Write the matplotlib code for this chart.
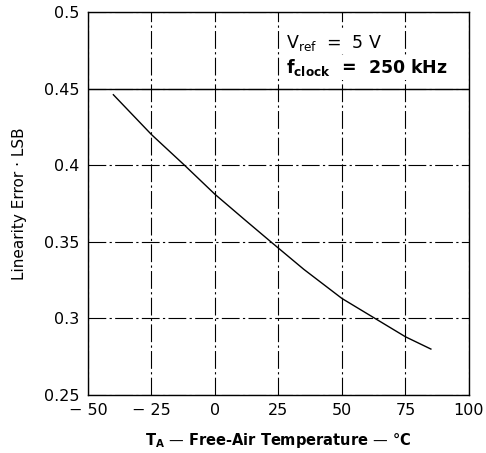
import matplotlib
matplotlib.use("Agg")
import matplotlib.pyplot as plt

# data
temp_c = [-40, -25, -12, 0, 12, 22, 35, 50, 63, 75, 85]
lin_err = [0.446, 0.420, 0.400, 0.381, 0.364, 0.350, 0.332, 0.313, 0.300, 0.288, 0.280]

x_ticks = [-50, -25, 0, 25, 50, 75, 100]
x_labels = ["\u2212 50", "\u2212 25", "0", "25", "50", "75", "100"]
y_ticks = [0.25, 0.3, 0.35, 0.4, 0.45, 0.5]
y_labels = ["0.25", "0.3", "0.35", "0.4", "0.45", "0.5"]

plt.rcParams["font.family"] = ["DejaVu Sans"]
plt.rcParams["mathtext.fontset"] = "dejavusans"

fig = plt.figure(figsize=(4.86, 4.53), dpi=100)
ax = fig.add_axes([0.181, 0.128, 0.784, 0.8455])

ax.plot(temp_c, lin_err, color="black", linewidth=1.0)

ax.set_xlim(-50, 100)
ax.set_ylim(0.25, 0.5)
ax.set_xticks(x_ticks, x_labels)
ax.set_yticks(y_ticks, y_labels)
ax.tick_params(length=0, labelsize=11.5, pad=6)

# broken dash-dot grid, as in the scanned datasheet
ax.grid(True, color="black", linewidth=0.8, linestyle=(0, (16, 3, 2, 3)))
ax.axhline(0.45, color="black", linewidth=1.0)

for s in ax.spines.values():
  s.set_linewidth(1.0)

box = dict(facecolor="white", edgecolor="none", pad=1)
ax.text(28, 0.480, "V$_{\\mathrm{ref}}$  =  5 V", fontsize=12.5, va="center", bbox=box)
ax.text(28, 0.4635, "f$_{\\mathbf{clock}}$  =  250 kHz", fontsize=12.5,
        fontweight="bold", va="center", bbox=box)

ax.set_ylabel("Linearity Error \u00b7 LSB", fontsize=11, labelpad=12)
ax.set_xlabel("T$_{\\mathbf{A}}$ \u2014 Free-Air Temperature \u2014 \u00b0C", fontsize=10.5,
              fontweight="bold", labelpad=9)

fig.savefig("out.png", dpi=100)
